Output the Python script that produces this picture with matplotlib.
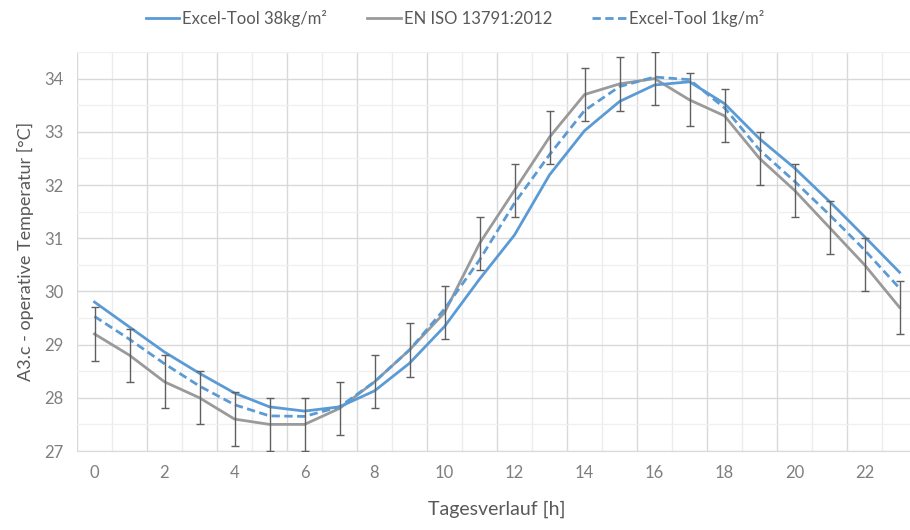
import numpy as np
import matplotlib
matplotlib.use('Agg')
from matplotlib import pyplot as plt
from matplotlib.ticker import MultipleLocator

plt.rcParams['font.family'] = ['Lato', 'DejaVu Sans']

hours = list(range(24))

# Excel-Tool 38kg/m2 (solid blue)
tool_38 = [29.80, 29.33, 28.86, 28.46, 28.09, 27.83, 27.75, 27.83,
           28.13, 28.65, 29.34, 30.23, 31.06, 32.19, 33.02, 33.57,
           33.88, 33.94, 33.53, 32.87, 32.32, 31.69, 31.03, 30.36]

# EN ISO 13791:2012 (gray, with error bars)
iso = [29.2, 28.8, 28.3, 28.0, 27.6, 27.5, 27.5, 27.8,
       28.3, 28.9, 29.6, 30.9, 31.9, 32.9, 33.7, 33.9,
       34.0, 33.6, 33.3, 32.5, 31.9, 31.2, 30.5, 29.7]
iso_err = 0.5

# Excel-Tool 1kg/m2 (dashed blue)
tool_1 = [29.53, 29.10, 28.64, 28.22, 27.87, 27.66, 27.65, 27.83,
          28.30, 28.90, 29.67, 30.59, 31.66, 32.57, 33.40, 33.85,
          34.03, 33.98, 33.45, 32.66, 32.07, 31.44, 30.78, 30.06]

labels = ['Excel-Tool 38kg/m²', 'EN ISO 13791:2012', 'Excel-Tool 1kg/m²']

blue = '#5b9bd5'
gray = '#9a9a9a'
text_dark = '#595959'
text_light = '#7f7f7f'

fig = plt.figure(figsize=(9.1, 5.3), dpi=100)
ax = fig.add_axes([77 / 910, 79 / 530, 840 / 910, 399 / 530])

l1, = ax.plot(hours, tool_38, color=blue, lw=2, zorder=4)
l2, = ax.plot(hours, iso, color=gray, lw=2, zorder=3)
ax.errorbar(hours, iso, yerr=iso_err, fmt='none', ecolor='#606060',
            elinewidth=1, capsize=3, capthick=1, zorder=5)
l3, = ax.plot(hours, tool_1, color=blue, lw=2, ls=(0, (3, 1.6)), zorder=4)

ax.set_xlim(-0.5, 23.5)
ax.set_ylim(27, 34.5)
ax.set_xticks(range(0, 24, 2))
ax.yaxis.set_major_locator(MultipleLocator(1))
ax.yaxis.set_minor_locator(MultipleLocator(0.5))
ax.set_yticks(range(27, 35))

# gridlines between categories (Excel style)
for i, xb in enumerate(np.arange(-0.5, 24, 1)):
    c = '#d9d9d9' if i % 2 == 0 else '#ececec'
    ax.axvline(xb, color=c, lw=1, zorder=0)
ax.grid(axis='y', which='major', color='#d9d9d9', lw=1, zorder=0)
ax.grid(axis='y', which='minor', color='#f0f0f0', lw=1, zorder=0)
ax.set_axisbelow(True)

for s in ['top', 'right', 'left']:
    ax.spines[s].set_visible(False)
ax.spines['bottom'].set_color('#d9d9d9')
ax.tick_params(which='both', length=0, labelsize=12, colors=text_light, pad=10)

ax.set_xlabel('Tagesverlauf [h]', fontsize=14, color=text_dark, labelpad=14)
ax.set_ylabel('A3.c - operative Temperatur [°C]', fontsize=13, color=text_dark, labelpad=7)

fig.legend([l1, l2, l3], labels, loc='center', bbox_to_anchor=(0.5, 0.965),
           ncol=3, frameon=False, fontsize=12, labelcolor=text_dark,
           handlelength=2.0, handletextpad=0.2, columnspacing=2.4)

fig.savefig('out.png', dpi=100)
